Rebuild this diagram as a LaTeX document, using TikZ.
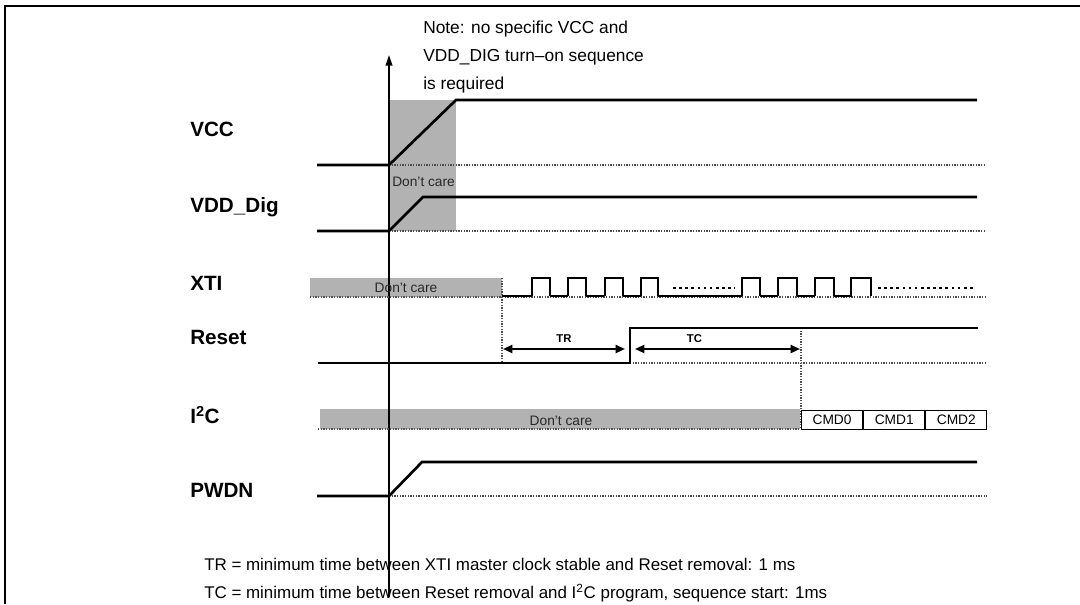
\documentclass[tikz,border=0pt]{standalone}
\usepackage{fontspec}
\setmainfont{Liberation Sans}
\usepackage{xcolor}
\usepackage{tikz}
\usetikzlibrary{arrows.meta,positioning}
\definecolor{dcgray}{RGB}{178,178,178}
\definecolor{txtgray}{RGB}{40,40,40}
\tikzset{
  siglabel/.style={anchor=west, inner sep=0pt,
                   font=\fontsize{15.5}{18}\selectfont\bfseries},
  wave/.style={line width=2pt, line join=miter},
  level/.style={line width=1pt, densely dotted, draw=black!70},
  dontcare/.style={fill=dcgray, draw=none},
  dcnote/.style={inner sep=0pt, text=txtgray, font=\fontsize{10.3}{12}\selectfont},
  cmdbox/.style={rectangle, draw, line width=0.8pt, inner sep=0pt,
                 minimum width=45.8pt, minimum height=14.3pt,
                 font=\fontsize{10.3}{12}\selectfont},
  timing/.style={{Triangle[length=7pt,width=6pt]}-{Triangle[length=7pt,width=6pt]},
                 line width=1.5pt},
  note/.style={anchor=west, inner sep=0pt, font=\fontsize{12.7}{15}\selectfont},
  tlabel/.style={inner sep=0pt, font=\fontsize{8.5}{10}\selectfont\bfseries}
}

\begin{document}
\begin{tikzpicture}[x=0.75pt,y=-0.75pt]
\useasboundingbox (0,0) rectangle (1080,604);
% frame
\draw[line width=2.2pt] (5,604) -- (5,6) -- (1080,6);

% don't care areas
\fill[dontcare] (389,100) rectangle (456,231);
\fill[dontcare] (310,278) rectangle (502,297);
\fill[dontcare] (320,409) rectangle (800,429);

% time axis
\coordinate (t0) at (389,597);
\coordinate (ttop) at (389,55);
\draw[line width=1.3pt, -{Triangle[length=8pt,width=5pt]}] (t0) -- (ttop);

\node[note, anchor=north west, align=left, font=\fontsize{13}{21}\selectfont] (note) at (423,21)
  {Note: no specific VCC and\\VDD\_DIG turn--on sequence\\is required};

% signal names
\node[siglabel] (vcc) at (190,129) {VCC};
\node[siglabel] (vdd) at (190,207) {VDD\_Dig};
\node[siglabel] (xti) at (190,283) {XTI};
\node[siglabel] (rst) at (190,337) {Reset};
\node[siglabel] (i2c) at (190,415) {I\textsuperscript{2}C};
\node[siglabel] (pwdn) at (190,490) {PWDN};

% VCC
\draw[level] (389,165) -- (985,165);
\draw[wave] (317,165) -- (389,165) -- (456,100) -- (977,100);
\node[dcnote, anchor=west] (dc1) at (392,182) {Don't care};

% VDD_Dig
\draw[level] (389,231) -- (985,231);
\draw[wave] (317,231) -- (389,231) -- (423,197) -- (977,197);

% XTI
\draw[level] (310,297) -- (985,297);
\draw[level] (502,278) -- (502,363);
\node[dcnote] (dc2) at (406,288) {Don't care};
\draw[line width=0.9pt] (502,296) -- (532,296);
\foreach \x/\w in {532/18,568/18,605/18,641/17,742/18,778/19,815/19,851/20}
  \draw[line width=0.9pt] (\x,296) -- (\x,278) -- ++(\w,0) -- ++(0,18);
\foreach \x in {550,586,623,760,797,834}
  \draw[line width=0.9pt] (\x,296) -- ++(18,0);
\draw[line width=0.9pt] (658,296) -- (742,296);
\draw[line width=2.2pt, dash pattern=on 2pt off 2.6pt] (673,288) -- (735,288);
\draw[line width=2.2pt, dash pattern=on 2pt off 2.6pt] (878,288) -- (975,288);

% Reset
\draw[level] (630,363) -- (985,363);
\draw[level] (801,328) -- (801,429);
\draw[wave] (318,363) -- (630,363) -- (630,328) -- (978,328);
\coordinate (trL) at (503,349);
\coordinate (trR) at (625,349);
\coordinate (tcL) at (635,349);
\coordinate (tcR) at (800,349);
\draw[timing] (trL) -- (trR) node[tlabel, midway, above=4pt] {TR};
\draw[timing] (tcL) -- (tcR) node[tlabel, pos=0.36, above=4pt] {TC};

% I2C
\draw[level] (318,429) -- (801,429);
\node[dcnote] (dc3) at (561,421) {Don't care};
\node[cmdbox, anchor=south west] (cmd0) at (801,430) {CMD0};
\node[cmdbox, right=0pt of cmd0] (cmd1) {CMD1};
\node[cmdbox, right=0pt of cmd1] (cmd2) {CMD2};

% PWDN
\draw[level] (389,496) -- (987,496);
\draw[wave] (317,496) -- (389,496) -- (422,462) -- (977,462);

% footnotes
\node[note] (trnote) at (204,564)
  {TR = minimum time between XTI master clock stable and Reset removal: 1 ms};
\node[note] (tcnote) at (204,593)
  {TC = minimum time between Reset removal and I\textsuperscript{2}C program, sequence start: 1ms};
\end{tikzpicture}
\end{document}
